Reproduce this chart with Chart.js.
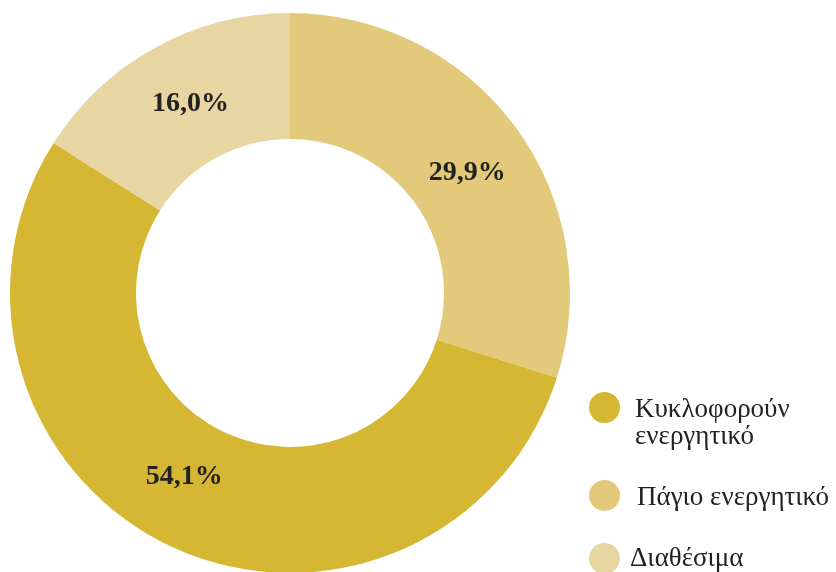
<!DOCTYPE html>
<html>
<head>
<meta charset="utf-8">
<script src="https://cdn.jsdelivr.net/npm/chart.js@4"></script>
<style>
  html, body { margin: 0; padding: 0; background: #fff; overflow: hidden; }
  body { width: 836px; height: 572px; position: relative; font-family: "Liberation Serif", "DejaVu Serif", serif; }
  #wrap { position: absolute; left: 0; top: 0; width: 580px; height: 586px; }
  #legend { position: absolute; left: 0; top: 0; width: 836px; height: 572px; }
  .dot { position: absolute; left: 589px; width: 31px; height: 31px; border-radius: 50%; }
  .txt { position: absolute; font-size: 27px; line-height: 27px; color: #222; white-space: nowrap; }
</style>
</head>
<body>
<div id="wrap"><canvas id="pie"></canvas></div>
<div id="legend"></div>
<script>
// data (drawing order, clockwise from top)
const labels = ['Πάγιο ενεργητικό', 'Κυκλοφορούν ενεργητικό', 'Διαθέσιμα'];
const values = [29.9, 54.1, 16.0];
const colors = ['#e3c97a', '#d5b734', '#e8d6a2'];
// legend order as shown in the picture
const legendOrder = [1, 0, 2];
const legendLines = [['Πάγιο ενεργητικό'], ['Κυκλοφορούν', 'ενεργητικό'], ['Διαθέσιμα']];

// small nudges so the percentages sit where the original put them
const labelNudge = [[2, 8], [-14, -13], [5, 1]];

// percentage labels on the ring
const sliceLabels = {
    id: 'sliceLabels',
    afterDatasetsDraw(chart) {
        const ctx = chart.ctx;
        const meta = chart.getDatasetMeta(0);
        ctx.save();
        ctx.font = 'bold 28px "Liberation Serif", serif';
        ctx.fillStyle = '#222';
        ctx.textAlign = 'center';
        ctx.textBaseline = 'middle';
        meta.data.forEach((arc, i) => {
            const p = arc.tooltipPosition();
            const txt = values[i].toFixed(1).replace('.', ',') + '%';
            ctx.fillText(txt, p.x + labelNudge[i][0], p.y + labelNudge[i][1]);
        });
        ctx.restore();
    }
};

new Chart(document.getElementById('pie'), {
    type: 'doughnut',
    data: {
        labels: labels,
        datasets: [{
            data: values,
            backgroundColor: colors,
            borderWidth: 0
        }]
    },
    options: {
        responsive: true,
        maintainAspectRatio: false,
        animation: false,
        cutout: '55%',
        layout: { padding: 10 },
        plugins: {
            legend: { display: false },
            tooltip: { enabled: false }
        }
    },
    plugins: [sliceLabels]
});

// Legend
const dotTops = [392, 480, 543];
const textTops = [395, 483, 544];
const textLefts = [635, 637, 630];
const legend = document.getElementById('legend');
legendOrder.forEach((idx, k) => {
    const dot = document.createElement('div');
    dot.className = 'dot';
    dot.style.top = dotTops[k] + 'px';
    dot.style.background = colors[idx];
    const txt = document.createElement('div');
    txt.className = 'txt';
    txt.style.top = textTops[k] + 'px';
    txt.style.left = textLefts[k] + 'px';
    txt.innerHTML = legendLines[idx].join('<br>');
    legend.appendChild(dot);
    legend.appendChild(txt);
});
</script>
</body>
</html>
